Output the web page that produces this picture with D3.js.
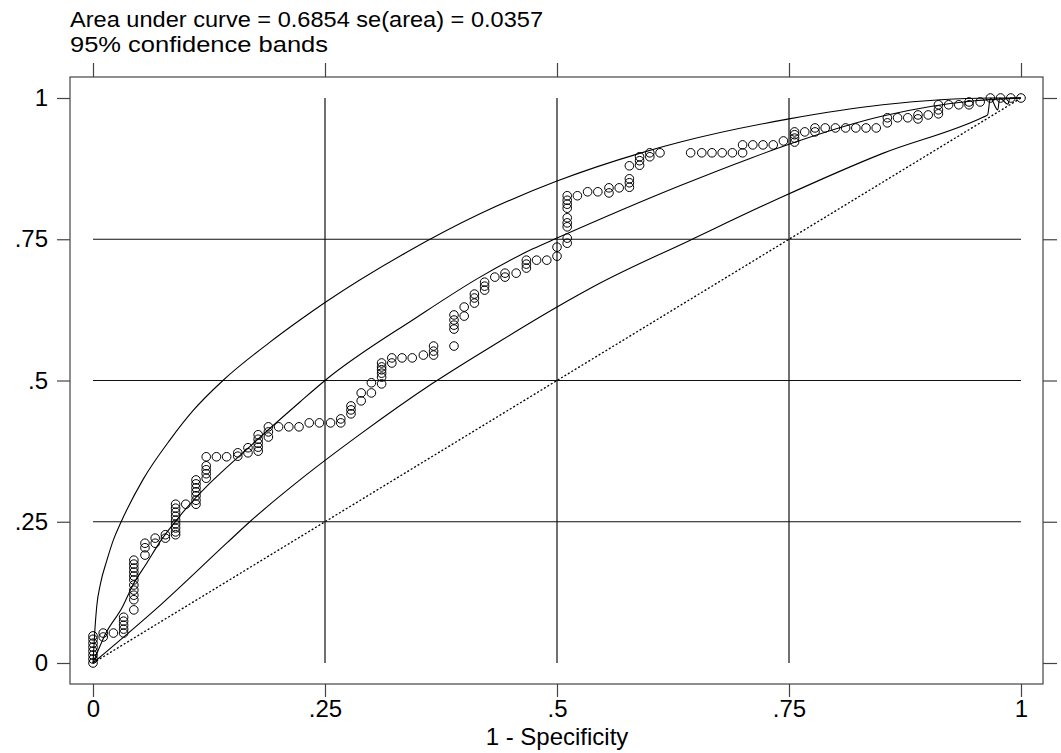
<!DOCTYPE html>
<html>
<head>
<meta charset="utf-8">
<script src="https://cdn.jsdelivr.net/npm/d3@7"></script>
<style>
  body { margin: 0; background: #fff; }
  text { font-family: "Liberation Sans", Arial, sans-serif; fill: #000; }
</style>
</head>
<body>
<div id="container"></div>
<script>
// empirical ROC points: one column per false-positive rate
var colX = [0, .011, .022, .033, .044, .056, .067, .078, .089, .1, .111, .122, .133, .144, .156, .167,
  .178, .189, .2, .211, .222, .233, .244, .256, .267, .278, .289, .3, .311, .322, .333, .344, .356, .367,
  .389, .4, .411, .422, .433, .444, .456, .467, .478, .489, .5, .511, .522, .533, .544, .556, .567, .578,
  .589, .6, .611, .644, .656, .667, .678, .689, .7, .711, .722, .733, .744, .756, .767, .778, .789, .8,
  .811, .822, .833, .844, .856, .867, .878, .889, .9, .911, .922, .933, .944, .956, .967, .978, .989, 1];
var colY = [
  [0, .007, .014, .021, .028, .035, .042, .048], [.046, .053], [.053], [.053, .060, .067, .074, .081],
  [.094, .112, .120, .129, .138, .147, .154, .161, .168, .175, .182], [.191, .204, .212], [.212, .221],
  [.221, .227], [.227, .232, .239, .246, .253, .260, .267, .274, .281], [.281],
  [.281, .288, .296, .303, .310, .317, .324], [.327, .335, .342, .349, .365], [.365], [.365],
  [.366, .372], [.372, .381], [.375, .382, .389, .396, .404], [.400, .409, .418], [.418], [.418], [.418],
  [.425], [.425], [.425], [.425, .432], [.441, .448, .455], [.464, .478], [.478, .496],
  [.494, .506, .513, .519, .524, .531], [.531, .540], [.540], [.540], [.545], [.545, .552, .561],
  [.561, .591, .598, .607, .616], [.614, .630], [.637, .646, .653], [.660, .667, .674], [.683],
  [.683, .690], [.690], [.699, .706, .713], [.713], [.713], [.720, .736],
  [.743, .752, .772, .779, .788, .805, .812, .819, .827], [.827], [.834], [.834], [.832, .841], [.841],
  [.842, .850, .857, .880], [.881, .889, .896], [.896, .903], [.903], [.903], [.903], [.903], [.903],
  [.903], [.903, .917], [.917], [.917], [.917], [.924], [.922, .929, .935, .940], [.940], [.940, .947],
  [.947], [.947], [.947], [.947], [.947], [.947], [.956, .965], [.965], [.965], [.963, .970], [.970],
  [.972, .979, .988], [.988], [.988], [.988, .993], [.993], [1], [1], [1], [1]];

// upper 95% band
var upperX = [0, .002, .004, .008, .015, .022, .029, .054, .083, .108, .14, .19, .223, .25, .338, .417,
  .5, .589, .633, .75, .851, .967, 1];
var upperY = [0, .058, .10, .14, .182, .218, .245, .325, .395, .447, .50, .567, .607, .638, .727, .795,
  .853, .902, .922, .963, .988, 1, 1];

// fitted curve
var midX = [0, .013, .032, .043, .058, .072, .09, .177, .223, .25, .349, .417, .474, .5, .633, .708,
  .75, .851, .95, 1];
var midY = [0, .05, .10, .138, .177, .214, .253, .395, .462, .50, .612, .683, .733, .752, .845, .893,
  .918, .968, .995, 1];

// lower 95% band
var lowerX = [0, .075, .144, .169, .223, .288, .366, .439, .5, .546, .643, .74, .851, .959, .964, .967,
  .975, .977, .986, .988, 1];
var lowerY = [0, .106, .212, .25, .324, .405, .495, .57, .63, .672, .748, .823, .902, .966, .970, 1,
  .979, 1, .989, 1, 1];

var tickVals = [0, .25, .5, .75, 1];
var tickLabels = ["0", ".25", ".5", ".75", "1"];
var gridVals = [.25, .5, .75];

var width = 1061;
var height = 753;
var box = { left: 70, top: 77, right: 1043, bottom: 684 };

var svg = d3
  .select("#container")
  .append("svg")
  .attr("width", width)
  .attr("height", height);

var x = d3.scaleLinear().domain([0, 1]).range([93, 1021]);
var y = d3.scaleLinear().domain([0, 1]).range([663, 98]);

// grid
svg.selectAll(".vgrid")
  .data(gridVals)
  .enter()
  .append("line")
  .attr("x1", d => x(d)).attr("x2", d => x(d))
  .attr("y1", y(0)).attr("y2", y(1))
  .attr("stroke", "#111").attr("stroke-width", 1.2);

svg.selectAll(".hgrid")
  .data(gridVals)
  .enter()
  .append("line")
  .attr("x1", x(0)).attr("x2", x(1))
  .attr("y1", d => y(d)).attr("y2", d => y(d))
  .attr("stroke", "#111").attr("stroke-width", 1.2);

// frame
svg.append("rect")
  .attr("x", box.left).attr("y", box.top)
  .attr("width", box.right - box.left).attr("height", box.bottom - box.top)
  .attr("fill", "none").attr("stroke", "#444").attr("stroke-width", 1.2);

// axes (ticks outside on all four sides)
function styleAxis(g) {
  g.select(".domain").remove();
  g.selectAll("line").attr("stroke", "#444").attr("stroke-width", 1.2);
  g.selectAll("text").style("font-size", "24px").attr("fill", "#000");
}

svg.append("g")
  .attr("transform", "translate(0," + box.bottom + ")")
  .call(d3.axisBottom(x).tickValues(tickVals).tickSize(13).tickPadding(3)
    .tickFormat((d, i) => tickLabels[i]))
  .call(styleAxis);

svg.append("g")
  .attr("transform", "translate(0," + box.top + ")")
  .call(d3.axisTop(x).tickValues(tickVals).tickSize(14).tickFormat(""))
  .call(styleAxis);

svg.append("g")
  .attr("transform", "translate(" + box.left + ",0)")
  .call(d3.axisLeft(y).tickValues(tickVals).tickSize(13).tickPadding(9)
    .tickFormat((d, i) => tickLabels[i]))
  .call(styleAxis);

svg.append("g")
  .attr("transform", "translate(" + box.right + ",0)")
  .call(d3.axisRight(y).tickValues(tickVals).tickSize(14).tickFormat(""))
  .call(styleAxis);

// curves
function curveData(xs, ys) {
  return xs.map((v, i) => [v, ys[i]]);
}
var smooth = d3.line().x(d => x(d[0])).y(d => y(d[1])).curve(d3.curveMonotoneX);
var straight = d3.line().x(d => x(d[0])).y(d => y(d[1]));

svg.append("path")
  .attr("d", straight([[0, 0], [1, 1]]))
  .attr("fill", "none").attr("stroke", "#000").attr("stroke-width", 1.3)
  .attr("stroke-dasharray", "2,2");

[[upperX, upperY], [midX, midY], [lowerX, lowerY]].forEach(function (c) {
  svg.append("path")
    .attr("d", smooth(curveData(c[0], c[1])))
    .attr("fill", "none").attr("stroke", "#000").attr("stroke-width", 1.1);
});

// points
var points = [];
colX.forEach(function (cx, i) {
  colY[i].forEach(function (cy) { points.push({ fpr: cx, tpr: cy }); });
});

svg.selectAll("circle")
  .data(points)
  .enter()
  .append("circle")
  .attr("cx", d => x(d.fpr))
  .attr("cy", d => y(d.tpr))
  .attr("r", 4.3)
  .attr("fill", "none")
  .attr("stroke", "#000")
  .attr("stroke-width", 1);

// titles
svg.append("text")
  .attr("x", 70).attr("y", 27)
  .style("font-size", "22px")
  .attr("textLength", 473).attr("lengthAdjust", "spacingAndGlyphs")
  .text("Area under curve = 0.6854 se(area) = 0.0357");

svg.append("text")
  .attr("x", 70).attr("y", 51.5)
  .style("font-size", "22px")
  .attr("textLength", 258).attr("lengthAdjust", "spacingAndGlyphs")
  .text("95% confidence bands");

svg.append("text")
  .attr("x", x(.5)).attr("y", 745)
  .style("font-size", "24px")
  .style("text-anchor", "middle")
  .text("1 - Specificity");
</script>
</body>
</html>
